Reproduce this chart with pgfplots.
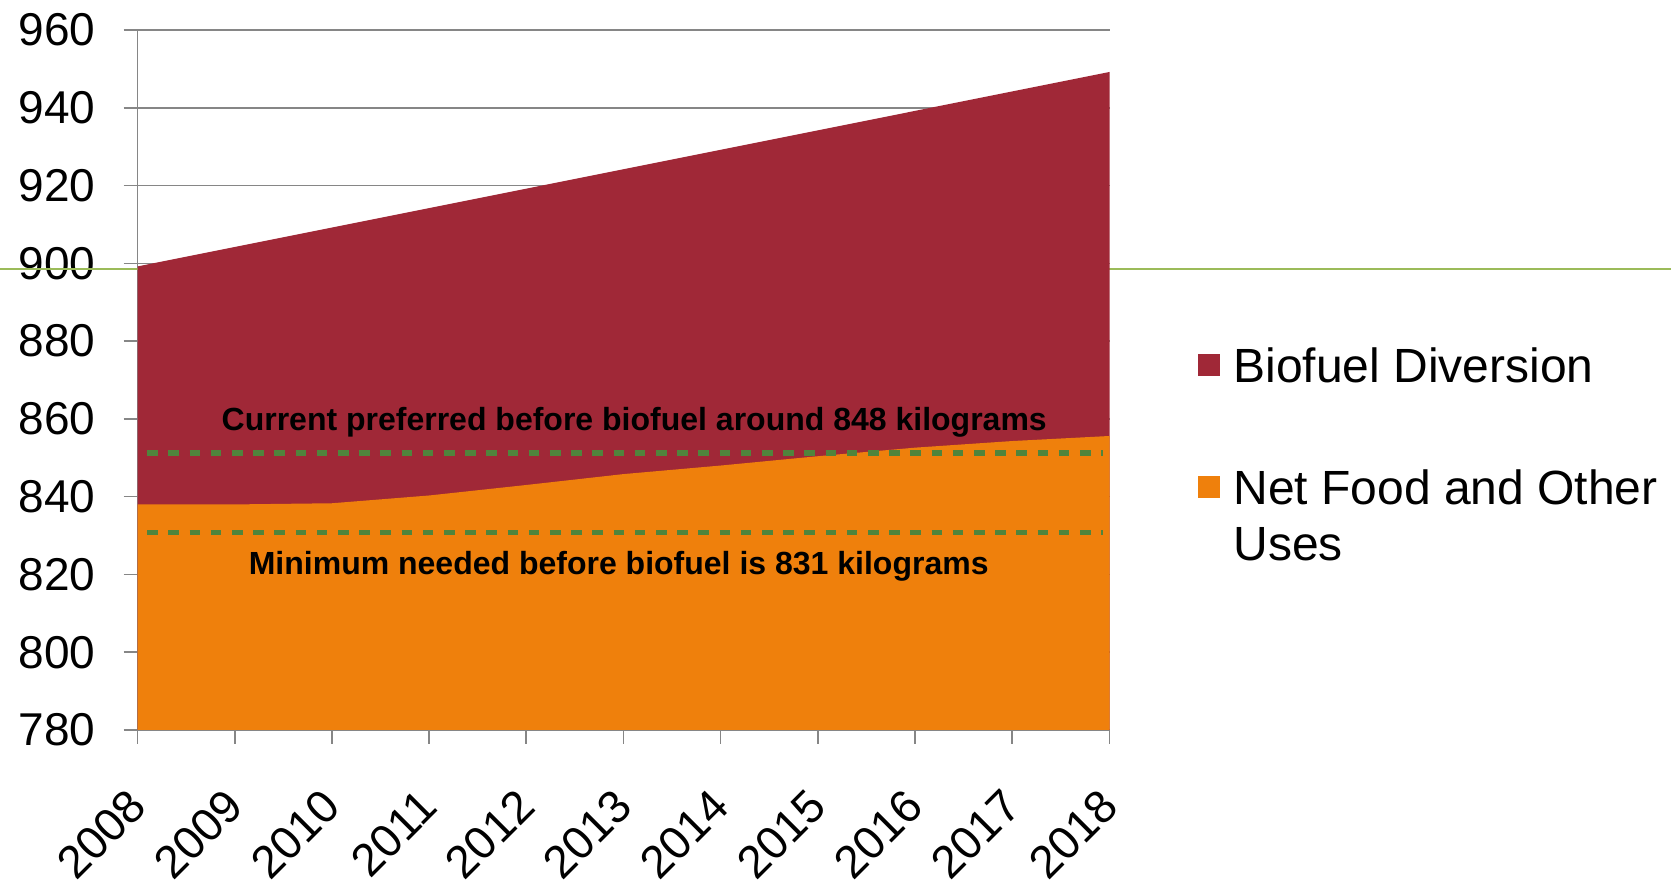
\documentclass[border=0pt]{standalone}
\usepackage{pgfplots}
\pgfplotsset{compat=1.18}
\usepackage{fontspec}
\setmainfont{Liberation Sans}
\definecolor{bioRed}{RGB}{160,40,55}
\definecolor{foodOrange}{RGB}{239,128,12}
\definecolor{dashGreen}{RGB}{80,132,60}
\definecolor{strayGreen}{RGB}{155,187,89}
\definecolor{gridGray}{RGB}{134,134,134}
\begin{document}
\begin{tikzpicture}
\begin{axis}[
 name=ax,
 scale only axis,
 width=486pt, height=350pt,
 xmin=2008, xmax=2018, ymin=780, ymax=960,
 clip=false,
 axis lines=left,
 axis line style={-, gridGray, line width=0.8pt},
 xtick={2008,...,2018},
 ytick={780,800,...,960},
 tick align=outside,
 major tick length=7pt,
 tick style={gridGray, line width=0.8pt},
 ymajorgrids,
 grid style={gridGray, line width=0.8pt},
 /pgf/number format/1000 sep={},
 /pgf/number format/assume math mode=true,
 ticklabel style={font=\fontsize{23}{27}\selectfont},
 yticklabel style={xshift=-10.5pt},
 xticklabel style={yshift=-27pt, rotate=45, anchor=east, inner sep=0pt},
]
\addplot[draw=strayGreen, line width=0.8pt, forget plot] coordinates {(2006.585,898.47) (2023.777,898.47)};
\addplot[fill=bioRed, draw=none] coordinates {
 (2008,780) (2008,899.2) (2009,904.2) (2010,909.2) (2011,914.2) (2012,919.2) (2013,924.2)
 (2014,929.2) (2015,934.2) (2016,939.2) (2017,944.2) (2018,949.2) (2018,780)};
\addplot[fill=foodOrange, draw=none] coordinates {
 (2008,780) (2008,838.0) (2009,838.0) (2010,838.3) (2011,840.3) (2012,843.0) (2013,845.8)
 (2014,848.0) (2015,850.4) (2016,852.6) (2017,854.3) (2018,855.6) (2018,780)};
\addplot[dashGreen, line width=2.6pt, dash pattern=on 5.3pt off 5.3pt] coordinates {(2008.10,851.2) (2017.93,851.2)};
\addplot[dashGreen, line width=2.6pt, dash pattern=on 5.3pt off 5.3pt] coordinates {(2008.10,830.7) (2017.93,830.7)};
\node[font=\bfseries\fontsize{16}{19}\selectfont] at (axis cs:2013.11,859.2) {Current preferred before biofuel around 848 kilograms};
\node[font=\bfseries\fontsize{16}{19}\selectfont] at (axis cs:2012.95,822.2) {Minimum needed before biofuel is 831 kilograms};
\coordinate (TL) at (axis cs:2006.585,967.71);
\end{axis}
\begin{scope}[shift={(TL)}, x=0.5pt, y=-0.5pt]
\fill[bioRed] (1198,354.5) rectangle (1220,376.5);
\node[anchor=west, inner sep=0pt, font=\fontsize{24}{28}\selectfont] at (1233,365.5) {Biofuel Diversion};
\fill[foodOrange] (1198,476) rectangle (1220,498);
\node[anchor=west, inner sep=0pt, align=left, font=\fontsize{24}{28}\selectfont] at (1233,515) {Net Food and Other\\Uses};
\pgfresetboundingbox
\path[use as bounding box] (0,0) rectangle (1671,879);
\end{scope}
\end{tikzpicture}
\end{document}
